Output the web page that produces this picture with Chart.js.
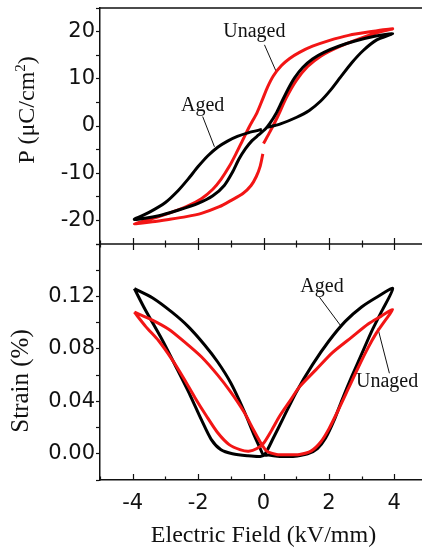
<!DOCTYPE html>
<html>
<head>
<meta charset="utf-8">
<script src="https://cdn.jsdelivr.net/npm/chart.js@4.4.1/dist/chart.umd.min.js"></script>
<style>
html, body { margin: 0; padding: 0; background: #fff; overflow: hidden; }
#wrap { width: 432px; height: 552px; }
</style>
</head>
<body>
<div id="wrap"><canvas id="loops" width="432" height="552"></canvas></div>
<script>
// P-E loops, traced in measuring order (E in kV/mm, P in uC/cm2)
const pUnagedE = [0.0, 0.2, 0.42, 0.7, 1.0, 1.35, 1.75, 2.25, 2.9, 3.45, 3.95,
    3.3, 2.6, 2.0, 1.5, 1.1, 0.8, 0.55, 0.3, 0.12, -0.02, -0.2, -0.43, -0.65, -0.85, -1.05, -1.3, -1.55, -1.9, -2.36, -2.9, -3.4, -3.95,
    -3.4, -2.9, -2.36, -1.9, -1.35, -1.0, -0.63, -0.38, -0.22, -0.1, -0.02];
const pUnagedP = [-3.7, -1.2, 1.8, 6.0, 9.6, 12.6, 14.8, 16.6, 18.4, 19.7, 20.6,
    20.0, 19.2, 18.1, 16.9, 15.6, 14.3, 12.8, 10.6, 8.2, 5.8, 2.8, -0.1, -3.2, -6.0, -8.6, -11.3, -13.4, -15.4, -17.1, -18.5, -19.6, -20.7,
    -20.3, -19.8, -19.2, -18.5, -17.1, -15.8, -14.3, -12.6, -10.7, -8.5, -5.9];
const pAgedE = [0.1, 0.5, 1.0, 1.4, 1.75, 2.05, 2.35, 2.7, 3.05, 3.45, 3.95,
    3.4, 2.8, 2.3, 1.85, 1.5, 1.2, 0.95, 0.75, 0.55, 0.38, 0.2, 0.05, -0.15, -0.35, -0.55, -0.75, -0.95, -1.2, -1.55, -2.0, -2.6, -3.2, -3.95,
    -3.5, -3.0, -2.6, -2.3, -2.0, -1.7, -1.4, -1.1, -0.8, -0.45, -0.05];
const pAgedP = [-0.3, 0.4, 1.8, 3.3, 5.3, 7.6, 10.3, 13.4, 16.0, 18.2, 19.6,
    19.0, 18.0, 16.9, 15.6, 14.2, 12.4, 10.2, 7.8, 5.0, 2.6, 0.6, -0.7, -1.9, -3.1, -4.8, -7.0, -9.8, -12.6, -14.8, -16.4, -17.8, -19.0, -19.8,
    -18.3, -16.2, -13.6, -11.2, -8.6, -6.3, -4.5, -3.2, -2.2, -1.4, -0.75];

// strain loops (E in kV/mm, strain in %)
const sUnagedE = [-3.95, -3.6, -3.2, -2.8, -2.45, -2.1, -1.75, -1.4, -1.05, -0.7, -0.45, -0.2, 0.0,
    0.25, 0.5, 0.8, 1.1, 1.6, 2.1, 2.7, 3.2, 3.6, 3.95,
    3.7, 3.45, 3.2, 2.9, 2.6, 2.3, 2.0, 1.75, 1.45, 1.1, 0.7, 0.4, 0.1,
    -0.1, -0.3, -0.6, -1.0, -1.4, -1.9, -2.4, -2.9, -3.4, -3.95];
const sUnagedS = [0.108, 0.097, 0.086, 0.072, 0.058, 0.043, 0.029, 0.016, 0.007, 0.003, 0.002, 0.004, 0.008,
    0.018, 0.029, 0.040, 0.051, 0.064, 0.077, 0.089, 0.099, 0.105, 0.110,
    0.101, 0.092, 0.081, 0.066, 0.050, 0.034, 0.019, 0.009, 0.002, -0.0005, -0.0008, -0.0005, 0.002,
    0.009, 0.018, 0.032, 0.047, 0.060, 0.074, 0.085, 0.095, 0.102, 0.108];
const sAgedE = [-3.95, -3.62, -3.1, -2.65, -2.25, -1.9, -1.6, -1.3, -0.95, -0.5, -0.1,
    0.05, 0.3, 0.6, 1.0, 1.5, 2.0, 2.5, 3.0, 3.5, 3.95,
    3.6, 3.3, 3.0, 2.7, 2.4, 2.15, 1.9, 1.65, 1.35, 0.9, 0.5, 0.15,
    0.0, -0.1, -0.3, -0.6, -1.0, -1.4, -1.8, -2.3, -2.8, -3.4, -3.95];
const sAgedS = [0.126, 0.110, 0.087, 0.065, 0.045, 0.026, 0.011, 0.003, 0.0, -0.0015, -0.002,
    0.0, 0.012, 0.027, 0.047, 0.068, 0.086, 0.101, 0.112, 0.120, 0.126,
    0.108, 0.093, 0.076, 0.059, 0.041, 0.025, 0.012, 0.004, 0.0, -0.002, -0.002, -0.001,
    -0.001, 0.004, 0.015, 0.033, 0.054, 0.070, 0.083, 0.097, 0.108, 0.119, 0.126];

const fieldLabels = [-4, -2, 0, 2, 4];
const polLabels = [-20, -10, 0, 10, 20];
const strainLabels = [0, 0.04, 0.08, 0.12];

// curve names [text, E, value] and their pointer lines [[E1, v1], [E2, v2]]
const pNotes = [['Unaged', -0.28, 18.8], ['Aged', -1.86, 3.2]];
const sNotes = [['Aged', 1.79, 0.1233], ['Unaged', 3.78, 0.0513]];
const pLeaders = [[[0.03, 17.2], [0.39, 11.5]], [[-1.86, 2.0], [-1.5, -4.4]]];
const sLeaders = [[[1.71, 0.1195], [2.35, 0.098]], [[3.5, 0.0955], [3.85, 0.0614]]];

const RED = '#f21515';
const INK = '#111';
const SERIF = '"Liberation Serif", "Times New Roman", serif';
const SANS = '"DejaVu Sans", sans-serif';

function pts(xs, ys) {
    return xs.map((x, i) => ({ x: x, y: ys[i] }));
}

function curve(xs, ys, color, axis) {
    return {
        data: pts(xs, ys), yAxisID: axis, showLine: true, borderColor: color,
        borderWidth: 3, pointRadius: 0, tension: 0.25, fill: false
    };
}

function leader(seg, axis) {
    return {
        data: seg.map(p => ({ x: p[0], y: p[1] })), yAxisID: axis, showLine: true,
        borderColor: INK, borderWidth: 1, pointRadius: 0, tension: 0
    };
}

let datasets = [
    curve(pAgedE, pAgedP, '#000', 'yP'),
    curve(pUnagedE, pUnagedP, RED, 'yP'),
    curve(sUnagedE, sUnagedS, RED, 'yS'),
    curve(sAgedE, sAgedS, '#000', 'yS')
];
pLeaders.forEach(s => datasets.push(leader(s, 'yP')));
sLeaders.forEach(s => datasets.push(leader(s, 'yS')));

function yAxis(min, max, step, labels, fmt) {
    return {
        type: 'linear', position: 'left', stack: 'panels', stackWeight: 1,
        min: min, max: max,
        ticks: {
            stepSize: step, autoSkip: false, color: INK, padding: 1,
            font: { family: SANS, size: 21 },
            callback: v => labels.some(l => Math.abs(l - v) < 1e-6) ? fmt(v) : ''
        },
        grid: { drawOnChartArea: false, drawTicks: true, tickLength: 4, tickColor: INK, tickWidth: 1.2 },
        border: { display: true, color: INK, width: 1.5 },
        afterFit: s => { s.width = 100; s.paddingTop = 0; s.paddingBottom = 0; }
    };
}

// frame lines, inward field ticks, curve names and rotated axis titles
const decor = {
    id: 'decor',
    afterDraw(chart) {
        const ctx = chart.ctx;
        const a = chart.chartArea;
        const xs = chart.scales.x, yP = chart.scales.yP, yS = chart.scales.yS;
        const mid = yP.bottom;
        ctx.save();
        ctx.strokeStyle = INK;
        ctx.lineWidth = 1.5;
        ctx.beginPath();
        ctx.moveTo(a.left, a.top); ctx.lineTo(a.right, a.top);
        ctx.moveTo(a.left, mid); ctx.lineTo(a.right, mid);
        ctx.stroke();
        ctx.lineWidth = 1.2;
        ctx.beginPath();
        xs.ticks.forEach(t => {
            const px = Math.round(xs.getPixelForValue(t.value)) + 0.5;
            const len = Math.abs(t.value) % 2 === 0 ? 6 : 3.5;
            ctx.moveTo(px, a.bottom); ctx.lineTo(px, a.bottom - len);
            ctx.moveTo(px, mid - len); ctx.lineTo(px, mid + len);
        });
        ctx.stroke();

        ctx.fillStyle = INK;
        ctx.textAlign = 'center';
        ctx.textBaseline = 'alphabetic';
        ctx.font = '20px ' + SERIF;
        pNotes.forEach(n => ctx.fillText(n[0], xs.getPixelForValue(n[1]), yP.getPixelForValue(n[2])));
        sNotes.forEach(n => ctx.fillText(n[0], xs.getPixelForValue(n[1]), yS.getPixelForValue(n[2])));

        // P (uC/cm2) with raised 2
        ctx.save();
        ctx.translate(34, 110);
        ctx.rotate(-Math.PI / 2);
        ctx.textAlign = 'left';
        const big = '24px ' + SERIF, small = '15px ' + SERIF;
        ctx.font = big;
        const w1 = ctx.measureText('P (\u03bcC/cm').width;
        const w3 = ctx.measureText(')').width;
        ctx.font = small;
        const w2 = ctx.measureText('2').width;
        let x0 = -(w1 + w2 + w3) / 2;
        ctx.font = big;
        ctx.fillText('P (\u03bcC/cm', x0, 0);
        ctx.font = small;
        ctx.fillText('2', x0 + w1, -9);
        ctx.font = big;
        ctx.fillText(')', x0 + w1 + w2, 0);
        ctx.restore();

        ctx.save();
        ctx.translate(28, 381);
        ctx.rotate(-Math.PI / 2);
        ctx.textAlign = 'center';
        ctx.font = '25px ' + SERIF;
        ctx.fillText('Strain (%)', 0, 0);
        ctx.restore();
        ctx.restore();
    }
};

new Chart(document.getElementById('loops'), {
    type: 'scatter',
    data: { datasets: datasets },
    options: {
        responsive: false,
        animation: false,
        devicePixelRatio: 1,
        layout: { padding: { left: 0, right: 5, top: 8, bottom: 0 } },
        plugins: { legend: { display: false }, tooltip: { enabled: false } },
        scales: {
            x: {
                type: 'linear', position: 'bottom', min: -5, max: 5,
                ticks: {
                    stepSize: 1, autoSkip: false, maxRotation: 0, color: INK, padding: 11,
                    font: { family: SANS, size: 21 },
                    callback: v => fieldLabels.includes(v) ? String(v) : ''
                },
                grid: { drawOnChartArea: false, drawTicks: false },
                border: { display: true, color: INK, width: 1.5 },
                title: {
                    display: true, text: 'Electric Field (kV/mm)', color: INK,
                    font: { family: SERIF, size: 24 }, padding: { top: 0, bottom: 2 }
                },
                afterFit: s => { s.height = 72; s.paddingLeft = 0; s.paddingRight = 0; }
            },
            yS: yAxis(-0.02, 0.16, 0.02, strainLabels, v => v.toFixed(2)),
            yP: yAxis(-25, 25, 5, polLabels, v => String(v))
        }
    },
    plugins: [decor]
});
</script>
</body>
</html>
